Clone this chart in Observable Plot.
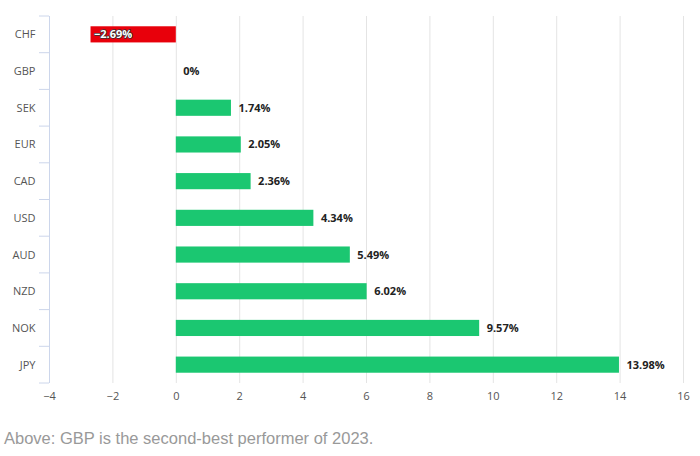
<!DOCTYPE html>
<html>
<head>
<meta charset="utf-8">
<script src="https://cdn.jsdelivr.net/npm/d3@7"></script>
<script src="https://cdn.jsdelivr.net/npm/@observablehq/plot@0.6"></script>
<style>
  body { margin: 0; background: #fff; font-family: "Open Sans", "DejaVu Sans", sans-serif; }
  #caption { font-family: "Liberation Sans", Arial, sans-serif; font-size: 16.5px; color: #999; margin: 14px 0 0 4px; }
</style>
</head>
<body>
<div id="chart"></div>
<div id="caption">Above: GBP is the second-best performer of 2023.</div>
<script>
const currencies = ["CHF", "GBP", "SEK", "EUR", "CAD", "USD", "AUD", "NZD", "NOK", "JPY"];
const changes = [-2.69, 0, 1.74, 2.05, 2.36, 4.34, 5.49, 6.02, 9.57, 13.98];
const xTicks = [-4, -2, 0, 2, 4, 6, 8, 10, 12, 14, 16];

const fmt = v => (v < 0 ? "\u2212" + Math.abs(v) : String(v));
const data = currencies.map((c, i) => ({ currency: c, value: changes[i], label: fmt(changes[i]) + "%" }));
const pos = data.filter(d => d.value >= 0);
const neg = data.filter(d => d.value < 0);

const chart = Plot.plot({
  width: 700,
  height: 415,
  marginLeft: 49,
  marginRight: 17,
  marginTop: 16,
  marginBottom: 32,
  style: { fontFamily: "'Open Sans', 'DejaVu Sans', sans-serif", fontSize: "11px", color: "#555" },
  x: { domain: [-4, 16], ticks: xTicks, label: null },
  y: { domain: currencies, paddingInner: 0.56, paddingOuter: 0.28, round: false, label: null },
  marks: [
    Plot.ruleX(xTicks.filter(t => t > -4), { stroke: "#e4e4e4", strokeWidth: 1 }),
    Plot.ruleX([-4], { stroke: "#ccd6eb", strokeWidth: 1 }),
    Plot.barX(pos, { x: "value", y: "currency", fill: "#1bc771" }),
    Plot.barX(neg, { x: "value", y: "currency", fill: "#e8000b" }),
    Plot.text(pos, { x: "value", y: "currency", text: "label", textAnchor: "start", dx: 7, fill: "#222", fontWeight: "bold", fontSize: 11 }),
    Plot.text(neg, { x: "value", y: "currency", text: "label", textAnchor: "start", dx: 3, fill: "#fff", stroke: "#333", strokeWidth: 1.5, fontWeight: "bold", fontSize: 11 }),
    Plot.axisY({ tickSize: 0, tickPadding: 14, fill: "#555", fontSize: 11 }),
    Plot.axisX({ ticks: xTicks, tickSize: 0, tickPadding: 9, fill: "#555", fontSize: 11, tickFormat: fmt })
  ]
});
document.getElementById("chart").appendChild(chart);

// separator ticks on the left axis between categories, positioned from the band scale
const svg = d3.select(chart);
const y = chart.scale("y");
const x = chart.scale("x");
const gap = (y.step - y.bandwidth) / 2;
const x0 = x.apply(-4);
const g = svg.append("g").attr("stroke", "#ccd6eb");
const bounds = currencies.map(c => y.apply(c) - gap);
bounds.push(y.apply(currencies[currencies.length - 1]) + y.bandwidth + gap);
bounds.forEach(yy => {
  g.append("line").attr("x1", x0 - 10).attr("x2", x0).attr("y1", yy).attr("y2", yy);
});
</script>
</body>
</html>
